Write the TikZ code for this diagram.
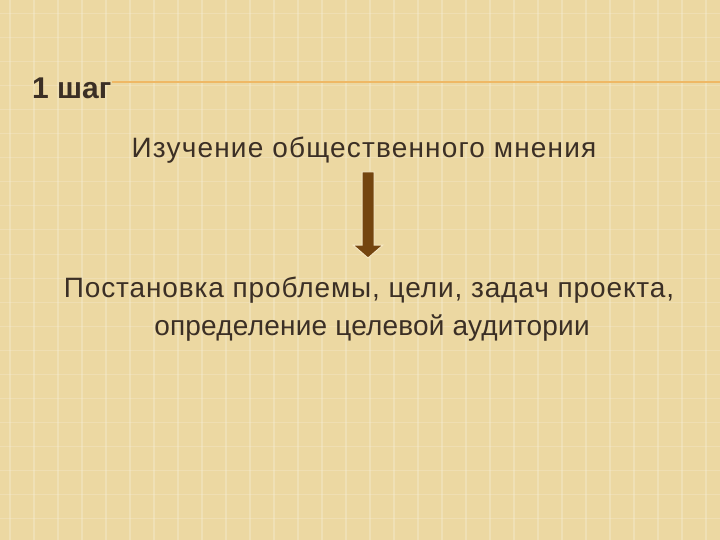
\documentclass[tikz,border=0pt]{standalone}
\usepackage{fontspec}
\setmainfont{Liberation Sans}
\definecolor{bg}{HTML}{ECD8A2}
\definecolor{ink}{HTML}{3B2F25}
\definecolor{rule}{HTML}{EFB865}
\definecolor{arrowbrown}{HTML}{74450F}
\definecolor{arrowedge}{HTML}{F6E7C2}
\tikzset{
  body/.style={text=ink, inner sep=0pt, anchor=base},
  title/.style={text=ink, font=\fontsize{30}{34}\selectfont\bfseries, inner sep=0pt, anchor=base west}
}
\begin{document}
\begin{tikzpicture}[x=1pt,y=-1pt]
\fill[bg] (0,0) rectangle (720,540);
\useasboundingbox (0,0) rectangle (720,540);
% texture hint
\foreach \i in {0,...,29} {
  \draw[white!60!bg, line width=1.2pt, opacity=0.35] (\i*24+10,0) -- (\i*24+10,540);
}
\foreach \j in {0,...,22} {
  \draw[white!60!bg, line width=1pt, opacity=0.3] (0,\j*24+14) -- (720,\j*24+14);
}
\node[title] (step) at (32,99) {1 шаг};
\coordinate (ruleend) at (720,82);
\draw[rule, line width=1.5pt] (112,82) -- (ruleend);
\node[body, font=\fontsize{28}{34}\selectfont\addfontfeature{LetterSpace=4.2}] (study) at (364,158) {Изучение общественного мнения};
\node[body, font=\fontsize{28}{34}\selectfont\addfontfeature{LetterSpace=3.2}] (goal) at (369,297) {Постановка проблемы, цели, задач проекта,};
\node[body, font=\fontsize{28}{34}\selectfont\addfontfeature{LetterSpace=0.8}] (audience) at (372,335) {определение целевой аудитории};
\draw[arrowedge, line width=1pt, fill=arrowbrown]
  (362,172) -- (374,172) -- (374,245) -- (383,245) -- (368,258) -- (353,245) -- (362,245) -- cycle;
\end{tikzpicture}
\end{document}
